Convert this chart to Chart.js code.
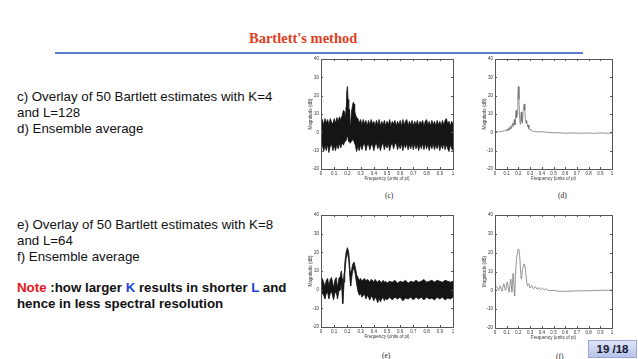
<!DOCTYPE html>
<html>
<head>
<meta charset="utf-8">
<script src="https://cdn.jsdelivr.net/npm/chart.js"></script>
<style>
  html, body { margin: 0; padding: 0; background: #fff; }
  body { width: 638px; height: 359px; position: relative; overflow: hidden; font-family: 'Liberation Sans', Arial, sans-serif; }
  .title { position: absolute; left: 249px; top: 30px; font: bold 14.5px 'Liberation Serif', serif; color: #e0401e; white-space: nowrap; }
  .rule { position: absolute; left: 55px; top: 52px; width: 528px; height: 2px; background: #5b7fc9; }
  .txt { position: absolute; left: 17px; font-size: 13.3px; line-height: 16px; color: #111; white-space: nowrap; }
  .note { font-weight: bold; }
  .red { color: #e8141c; }
  .blue { color: #1f3fd6; }
  .cap { position: absolute; font: 7.5px 'Liberation Serif', serif; color: #222; }
  .plot { position: absolute; }
  .page { position: absolute; left: 588px; top: 340px; width: 49px; height: 18px; background: linear-gradient(#dfe4f7, #b7c2ea); border: 1px solid #9aa6d6; box-sizing: border-box; font: bold 11.5px 'Liberation Sans', Arial, sans-serif; color: #14182e; text-align: center; line-height: 16px; }
</style>
</head>
<body>
<div class="title">Bartlett's method</div>
<div class="rule"></div>

<div class="txt" style="top:89px">c) Overlay of 50 Bartlett estimates with K=4<br>and L=128<br>d) Ensemble average</div>
<div class="txt" style="top:217px">e) Overlay of 50 Bartlett estimates with K=8<br>and L=64<br>f) Ensemble average</div>
<div class="txt note" style="top:280px"><span class="red">Note</span> :how larger <span class="blue">K</span> results in shorter <span class="blue">L</span> and<br>hence in less spectral resolution</div>

<canvas id="plotC" class="plot" width="151" height="129" style="left:306px;top:52px"></canvas>
<canvas id="plotD" class="plot" width="136" height="129" style="left:480px;top:52px"></canvas>
<canvas id="plotE" class="plot" width="151" height="131" style="left:306px;top:208px"></canvas>
<canvas id="plotF" class="plot" width="136" height="132" style="left:480px;top:208px"></canvas>

<div class="cap" style="left:385px;top:191px">(c)</div>
<div class="cap" style="left:558px;top:191px">(d)</div>
<div class="cap" style="left:382px;top:351px">(e)</div>
<div class="cap" style="left:556px;top:352px">(f)</div>

<div class="page">19 /18</div>

<script>
// frequency axis (units of pi) and magnitude axis (dB)
const xTicks = [0, 0.1, 0.2, 0.3, 0.4, 0.5, 0.6, 0.7, 0.8, 0.9, 1];
const yTicks = [-20, -10, 0, 10, 20, 30, 40];

// (c) overlay of 50 estimates, K=4, L=128 : upper / lower edge of the band
const freqC = [0, 0.01, 0.02, 0.03, 0.04, 0.05, 0.06, 0.07, 0.08, 0.09, 0.1, 0.11, 0.12, 0.13, 0.14, 0.15, 0.16, 0.17, 0.18, 0.185, 0.19, 0.195, 0.2, 0.205, 0.21, 0.215, 0.22, 0.225, 0.23, 0.24, 0.245, 0.25, 0.255, 0.26, 0.27, 0.28, 0.29, 0.3, 0.31, 0.32, 0.33, 0.34, 0.35, 0.36, 0.37, 0.38, 0.39, 0.4, 0.41, 0.42, 0.43, 0.44, 0.45, 0.46, 0.47, 0.48, 0.49, 0.5, 0.51, 0.52, 0.53, 0.54, 0.55, 0.56, 0.57, 0.58, 0.59, 0.6, 0.61, 0.62, 0.63, 0.64, 0.65, 0.66, 0.67, 0.68, 0.69, 0.7, 0.71, 0.72, 0.73, 0.74, 0.75, 0.76, 0.77, 0.78, 0.79, 0.8, 0.81, 0.82, 0.83, 0.84, 0.85, 0.86, 0.87, 0.88, 0.89, 0.9, 0.91, 0.92, 0.93, 0.94, 0.95, 0.96, 0.97, 0.98, 0.99, 1];
const upperC = [4.5, 7, 4, 7.5, 5, 7, 4, 7.5, 5.5, 4.5, 7.5, 5, 8, 6, 8.5, 7, 9, 12, 11, 6, 14, 22, 25, 18, 4, 12.7, 3, 5, 11, 15, 16.5, 15.5, 12, 10, 8, 7.5, 5, 7, 4, 7, 4.5, 6.5, 3.5, 6.5, 4, 7, 4.5, 6, 3.5, 6.5, 4, 7, 3.5, 6, 4, 6.5, 3.5, 6, 4, 7, 3.5, 6, 4.5, 6.5, 3.5, 6, 4, 6.5, 3.5, 7, 4, 6, 7, 3.5, 6, 4, 6.5, 3.5, 6, 4, 6.5, 3.5, 6, 4.5, 6.5, 3.5, 6, 7, 4, 6, 3.5, 6.5, 4, 6, 3.5, 6.5, 4, 6, 3.5, 6.5, 4, 6.5, 7.5, 4.5, 6, 3.5, 6, 4.5];
const lowerC = [-9, -6.5, -10.5, -7, -10, -6.5, -11, -7.5, -6.5, -10, -7, -10, -6.5, -9, -6, -8.5, -5.5, -7, -5, -5, -4, -3, -2, -3, -5, -4, -6, -6, -5, -4, -4, -5, -6, -7, -10.5, -7.5, -10, -6.5, -9.5, -7, -6, -10, -7, -6.5, -9.5, -7, -6.5, -10, -7, -6, -9, -6.5, -10, -7, -6, -9.5, -6.5, -8.5, -6, -10, -7, -6, -9, -6.5, -6, -9.5, -6.5, -9, -6, -10, -6.5, -8.5, -6, -9.5, -6.5, -9, -6, -9.5, -6, -9, -6.5, -10, -6.5, -9, -6, -9.5, -6, -9, -6.5, -10, -6.5, -9, -6, -9.5, -6.5, -9, -6, -10, -6.5, -9, -6, -9.5, -6.5, -9, -10.5, -6.5, -9, -10];

// (d) ensemble average, K=4, L=128
const freqD = [0, 0.02, 0.04, 0.06, 0.08, 0.09, 0.1, 0.105, 0.11, 0.12, 0.125, 0.135, 0.14, 0.15, 0.155, 0.165, 0.17, 0.18, 0.185, 0.19, 0.195, 0.2, 0.205, 0.21, 0.215, 0.22, 0.225, 0.23, 0.235, 0.24, 0.25, 0.255, 0.26, 0.265, 0.27, 0.28, 0.285, 0.29, 0.3, 0.31, 0.32, 0.34, 0.36, 0.4, 0.45, 0.5, 0.55, 0.6, 0.65, 0.7, 0.75, 0.8, 0.85, 0.9, 0.95, 1];
const avgD = [0.3, 0.5, 0.2, 0.6, 0.8, 1.2, 0.8, 1.8, 1, 2.5, 1.5, 3.5, 2, 5, 3, 7, 4, 12, 8, 10, 20, 25, 18, 8, 4.5, 9, 11, 6, 5, 12, 15.5, 12, 7, 5, 6.5, 3, 4, 2, 1.2, 1.5, 0.6, 0.5, 0.2, 0.3, 0, -0.3, -0.2, -0.5, -0.3, -0.4, -0.5, -0.3, -0.6, -0.3, -0.5, -0.4];

// (e) overlay of 50 estimates, K=8, L=64 : upper / lower edge of the band
const freqE = [0, 0.01, 0.02, 0.03, 0.04, 0.05, 0.06, 0.07, 0.08, 0.09, 0.095, 0.105, 0.115, 0.125, 0.135, 0.145, 0.15, 0.155, 0.16, 0.165, 0.17, 0.175, 0.18, 0.19, 0.2, 0.21, 0.215, 0.22, 0.225, 0.23, 0.24, 0.25, 0.26, 0.27, 0.28, 0.29, 0.3, 0.31, 0.32, 0.33, 0.34, 0.35, 0.36, 0.37, 0.38, 0.39, 0.4, 0.41, 0.42, 0.43, 0.44, 0.45, 0.46, 0.47, 0.48, 0.49, 0.5, 0.52, 0.54, 0.56, 0.58, 0.6, 0.62, 0.64, 0.66, 0.68, 0.7, 0.72, 0.74, 0.76, 0.78, 0.8, 0.82, 0.84, 0.86, 0.88, 0.9, 0.92, 0.94, 0.96, 0.98, 1];
const upperE = [5, 6, 4, 1.5, 5, 6, 2, 5.5, 6.5, 3, 1, 5, 6.5, 1, 6, 7, 9, 10, 6, 1, 4, 9, 14, 20, 22.5, 20, 16, 10, 7, 10, 13.5, 14.8, 12, 8, 6.5, 5, 6, 4.5, 5.5, 6, 4.5, 5.5, 5, 4, 5.5, 5, 4, 5.5, 4.5, 4, 5, 4.5, 3.5, 5, 4, 4.5, 3.5, 4.5, 4, 5, 3.5, 4.5, 4, 5, 3.5, 4.5, 4, 5, 4, 4.5, 5.5, 4, 4.5, 5, 4, 5, 4.5, 4, 5, 4.5, 4, 4.5];
const lowerE = [-1, -2, -3, -5, -2, -1.5, -5, -2, -1, -4, -5.5, -2, -1, -5, -1, 0, 2, 3, -2, -7.5, -2, 4, 9, 16.5, 20, 16, 11, 5, 2, 5, 10, 12, 8, 3, -1, -3, -2, -4, -3, -2.5, -5, -3, -4, -5.5, -3.5, -4, -6, -4, -5, -7, -4.5, -6.5, -5, -4, -6, -4.5, -5.5, -4, -5.5, -4, -5, -4, -6, -4.5, -5, -4, -5.5, -4, -5, -4, -5.5, -4, -5, -4.5, -5.5, -4, -5, -4, -5.5, -4.5, -5, -4];

// (f) ensemble average, K=8, L=64
const freqF = [0, 0.015, 0.03, 0.045, 0.06, 0.075, 0.09, 0.105, 0.12, 0.135, 0.145, 0.155, 0.168, 0.175, 0.185, 0.2, 0.21, 0.22, 0.226, 0.235, 0.25, 0.26, 0.27, 0.278, 0.287, 0.3, 0.315, 0.33, 0.345, 0.36, 0.375, 0.39, 0.405, 0.42, 0.435, 0.45, 0.5, 0.55, 0.6, 0.7, 0.8, 0.9, 1];
const avgF = [1, 2, 0, 2.5, -0.5, 3.5, 0, 4.5, -1, 6, -1, 9, -3, 8, 17, 22, 19, 9, 6, 11, 14, 11, 5, 2.5, 3.5, 1.2, 2.5, 0.8, 2, 0.5, 1.5, 0.3, 1.2, 0.2, 0.8, 0, 0, -0.5, -0.5, -0.3, -0.2, 0, 0.1];

const pts = (xs, ys) => xs.map((x, i) => ({ x: x, y: ys[i] }));

// matlab style box with inward ticks
const frame = {
    id: 'frame',
    afterDraw(chart) {
        const { ctx, chartArea: a, scales: { x, y } } = chart;
        ctx.save();
        ctx.strokeStyle = '#555';
        ctx.lineWidth = 1;
        ctx.strokeRect(Math.round(a.left) + 0.5, Math.round(a.top) + 0.5, Math.round(a.width), Math.round(a.height));
        ctx.beginPath();
        x.ticks.forEach(t => {
            const px = Math.round(x.getPixelForValue(t.value)) + 0.5;
            ctx.moveTo(px, a.bottom); ctx.lineTo(px, a.bottom - 2);
            ctx.moveTo(px, a.top); ctx.lineTo(px, a.top + 2);
        });
        y.ticks.forEach(t => {
            const py = Math.round(y.getPixelForValue(t.value)) + 0.5;
            ctx.moveTo(a.left, py); ctx.lineTo(a.left + 2, py);
            ctx.moveTo(a.right, py); ctx.lineTo(a.right - 2, py);
        });
        ctx.stroke();
        ctx.restore();
    }
};

function makePlot(id, datasets, yWidth) {
    const tickFont = { size: 4.5, family: 'Liberation Sans' };
    return new Chart(document.getElementById(id), {
        type: 'line',
        data: { datasets: datasets },
        options: {
            responsive: false,
            animation: false,
            devicePixelRatio: 1,
            layout: { padding: { top: 7, right: 4, left: 0, bottom: 0 } },
            plugins: { legend: { display: false }, tooltip: { enabled: false } },
            elements: { point: { radius: 0 } },
            scales: {
                x: {
                    type: 'linear', min: 0, max: 1,
                    afterBuildTicks: s => { s.ticks = xTicks.map(v => ({ value: v })); },
                    ticks: { font: tickFont, color: '#333', padding: 2, maxRotation: 0, autoSkip: false,
                             callback: v => String(v) },
                    grid: { display: false, drawTicks: false },
                    border: { display: false },
                    title: { display: true, text: 'Frequency (units of pi)', font: tickFont, color: '#333', padding: 0 },
                    afterFit: s => { s.height = 12; }
                },
                y: {
                    min: -20, max: 40,
                    afterBuildTicks: s => { s.ticks = yTicks.map(v => ({ value: v })); },
                    ticks: { font: tickFont, color: '#333', padding: 2 },
                    grid: { display: false, drawTicks: false },
                    border: { display: false },
                    title: { display: true, text: 'Magnitude (dB)', font: tickFont, color: '#333', padding: { top: 2, bottom: 0 } },
                    afterFit: s => { s.width = yWidth; }
                }
            }
        },
        plugins: [frame]
    });
}

makePlot('plotC', [
    { data: pts(freqC, upperC), borderColor: '#111', borderWidth: 0.8, fill: false, tension: 0 },
    { data: pts(freqC, lowerC), borderColor: '#111', borderWidth: 0.8, backgroundColor: '#151515', fill: '-1', tension: 0 }
], 15);

makePlot('plotD', [
    { data: pts(freqD, avgD), borderColor: '#666', borderWidth: 0.7, fill: false, tension: 0 }
], 15);

makePlot('plotE', [
    { data: pts(freqE, upperE), borderColor: '#111', borderWidth: 0.8, fill: false, tension: 0 },
    { data: pts(freqE, lowerE), borderColor: '#111', borderWidth: 0.8, backgroundColor: '#151515', fill: '-1', tension: 0 }
], 15);

makePlot('plotF', [
    { data: pts(freqF, avgF), borderColor: '#666', borderWidth: 0.7, fill: false, tension: 0.3 }
], 15);
</script>
</body>
</html>
